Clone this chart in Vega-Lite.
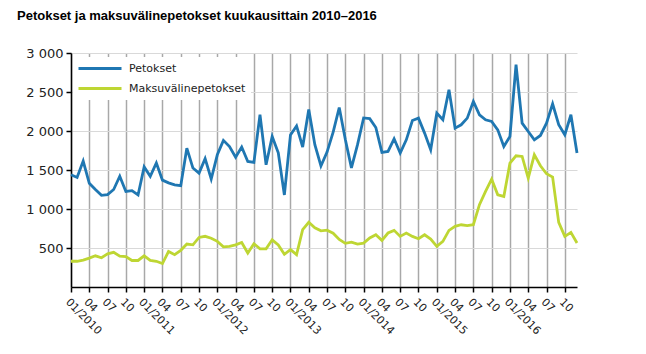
{
  "$schema": "https://vega.github.io/schema/vega-lite/v6.json",
  "width": 506,
  "height": 234,
  "autosize": {"type": "none"},
  "padding": {"left": 71, "top": 53, "right": 69, "bottom": 67},
  "background": "white",
  "title": {
    "text": "Petokset ja maksuvälinepetokset kuukausittain 2010–2016",
    "anchor": "start",
    "frame": "group",
    "dx": -54,
    "offset": 24,
    "font": "Liberation Sans",
    "fontSize": 13,
    "fontWeight": "bold",
    "color": "#000000"
  },
  "data": {
    "values": [
      {"kk": "2010-01", "Petokset": 1440, "Maksuvälinepetokset": 330},
      {"kk": "2010-02", "Petokset": 1405, "Maksuvälinepetokset": 330},
      {"kk": "2010-03", "Petokset": 1615, "Maksuvälinepetokset": 345},
      {"kk": "2010-04", "Petokset": 1330, "Maksuvälinepetokset": 370},
      {"kk": "2010-05", "Petokset": 1250, "Maksuvälinepetokset": 400},
      {"kk": "2010-06", "Petokset": 1175, "Maksuvälinepetokset": 375},
      {"kk": "2010-07", "Petokset": 1185, "Maksuvälinepetokset": 425},
      {"kk": "2010-08", "Petokset": 1250, "Maksuvälinepetokset": 445},
      {"kk": "2010-09", "Petokset": 1420, "Maksuvälinepetokset": 395},
      {"kk": "2010-10", "Petokset": 1225, "Maksuvälinepetokset": 390},
      {"kk": "2010-11", "Petokset": 1235, "Maksuvälinepetokset": 340},
      {"kk": "2010-12", "Petokset": 1180, "Maksuvälinepetokset": 340},
      {"kk": "2011-01", "Petokset": 1540, "Maksuvälinepetokset": 400},
      {"kk": "2011-02", "Petokset": 1420, "Maksuvälinepetokset": 340},
      {"kk": "2011-03", "Petokset": 1590, "Maksuvälinepetokset": 330},
      {"kk": "2011-04", "Petokset": 1370, "Maksuvälinepetokset": 300},
      {"kk": "2011-05", "Petokset": 1335, "Maksuvälinepetokset": 455},
      {"kk": "2011-06", "Petokset": 1310, "Maksuvälinepetokset": 415},
      {"kk": "2011-07", "Petokset": 1300, "Maksuvälinepetokset": 470},
      {"kk": "2011-08", "Petokset": 1780, "Maksuvälinepetokset": 550},
      {"kk": "2011-09", "Petokset": 1525, "Maksuvälinepetokset": 540},
      {"kk": "2011-10", "Petokset": 1460, "Maksuvälinepetokset": 635},
      {"kk": "2011-11", "Petokset": 1645, "Maksuvälinepetokset": 650},
      {"kk": "2011-12", "Petokset": 1385, "Maksuvälinepetokset": 625},
      {"kk": "2012-01", "Petokset": 1695, "Maksuvälinepetokset": 585},
      {"kk": "2012-02", "Petokset": 1880, "Maksuvälinepetokset": 515},
      {"kk": "2012-03", "Petokset": 1800, "Maksuvälinepetokset": 520},
      {"kk": "2012-04", "Petokset": 1665, "Maksuvälinepetokset": 540},
      {"kk": "2012-05", "Petokset": 1795, "Maksuvälinepetokset": 570},
      {"kk": "2012-06", "Petokset": 1610, "Maksuvälinepetokset": 435},
      {"kk": "2012-07", "Petokset": 1597, "Maksuvälinepetokset": 555},
      {"kk": "2012-08", "Petokset": 2208, "Maksuvälinepetokset": 490},
      {"kk": "2012-09", "Petokset": 1567, "Maksuvälinepetokset": 490},
      {"kk": "2012-10", "Petokset": 1930, "Maksuvälinepetokset": 605},
      {"kk": "2012-11", "Petokset": 1720, "Maksuvälinepetokset": 540},
      {"kk": "2012-12", "Petokset": 1180, "Maksuvälinepetokset": 420},
      {"kk": "2013-01", "Petokset": 1950, "Maksuvälinepetokset": 480},
      {"kk": "2013-02", "Petokset": 2065, "Maksuvälinepetokset": 415},
      {"kk": "2013-03", "Petokset": 1795, "Maksuvälinepetokset": 735},
      {"kk": "2013-04", "Petokset": 2275, "Maksuvälinepetokset": 830},
      {"kk": "2013-05", "Petokset": 1825, "Maksuvälinepetokset": 760},
      {"kk": "2013-06", "Petokset": 1552, "Maksuvälinepetokset": 720},
      {"kk": "2013-07", "Petokset": 1730, "Maksuvälinepetokset": 728},
      {"kk": "2013-08", "Petokset": 1985, "Maksuvälinepetokset": 690},
      {"kk": "2013-09", "Petokset": 2300, "Maksuvälinepetokset": 610},
      {"kk": "2013-10", "Petokset": 1890, "Maksuvälinepetokset": 560},
      {"kk": "2013-11", "Petokset": 1527, "Maksuvälinepetokset": 576},
      {"kk": "2013-12", "Petokset": 1825, "Maksuvälinepetokset": 550},
      {"kk": "2014-01", "Petokset": 2167, "Maksuvälinepetokset": 562},
      {"kk": "2014-02", "Petokset": 2158, "Maksuvälinepetokset": 628},
      {"kk": "2014-03", "Petokset": 2045, "Maksuvälinepetokset": 670},
      {"kk": "2014-04", "Petokset": 1725, "Maksuvälinepetokset": 598},
      {"kk": "2014-05", "Petokset": 1738, "Maksuvälinepetokset": 692},
      {"kk": "2014-06", "Petokset": 1900, "Maksuvälinepetokset": 726},
      {"kk": "2014-07", "Petokset": 1717, "Maksuvälinepetokset": 649},
      {"kk": "2014-08", "Petokset": 1887, "Maksuvälinepetokset": 692},
      {"kk": "2014-09", "Petokset": 2135, "Maksuvälinepetokset": 649},
      {"kk": "2014-10", "Petokset": 2165, "Maksuvälinepetokset": 619},
      {"kk": "2014-11", "Petokset": 1973, "Maksuvälinepetokset": 670},
      {"kk": "2014-12", "Petokset": 1759, "Maksuvälinepetokset": 615},
      {"kk": "2015-01", "Petokset": 2229, "Maksuvälinepetokset": 521},
      {"kk": "2015-02", "Petokset": 2144, "Maksuvälinepetokset": 585},
      {"kk": "2015-03", "Petokset": 2528, "Maksuvälinepetokset": 726},
      {"kk": "2015-04", "Petokset": 2037, "Maksuvälinepetokset": 777},
      {"kk": "2015-05", "Petokset": 2080, "Maksuvälinepetokset": 798},
      {"kk": "2015-06", "Petokset": 2165, "Maksuvälinepetokset": 786},
      {"kk": "2015-07", "Petokset": 2378, "Maksuvälinepetokset": 798},
      {"kk": "2015-08", "Petokset": 2208, "Maksuvälinepetokset": 1055},
      {"kk": "2015-09", "Petokset": 2144, "Maksuvälinepetokset": 1225},
      {"kk": "2015-10", "Petokset": 2122, "Maksuvälinepetokset": 1383},
      {"kk": "2015-11", "Petokset": 2015, "Maksuvälinepetokset": 1183},
      {"kk": "2015-12", "Petokset": 1802, "Maksuvälinepetokset": 1161},
      {"kk": "2016-01", "Petokset": 1930, "Maksuvälinepetokset": 1588},
      {"kk": "2016-02", "Petokset": 2850, "Maksuvälinepetokset": 1682},
      {"kk": "2016-03", "Petokset": 2101, "Maksuvälinepetokset": 1674},
      {"kk": "2016-04", "Petokset": 1994, "Maksuvälinepetokset": 1396},
      {"kk": "2016-05", "Petokset": 1887, "Maksuvälinepetokset": 1695},
      {"kk": "2016-06", "Petokset": 1943, "Maksuvälinepetokset": 1554},
      {"kk": "2016-07", "Petokset": 2101, "Maksuvälinepetokset": 1452},
      {"kk": "2016-08", "Petokset": 2349, "Maksuvälinepetokset": 1409},
      {"kk": "2016-09", "Petokset": 2080, "Maksuvälinepetokset": 828},
      {"kk": "2016-10", "Petokset": 1951, "Maksuvälinepetokset": 649},
      {"kk": "2016-11", "Petokset": 2208, "Maksuvälinepetokset": 700},
      {"kk": "2016-12", "Petokset": 1717, "Maksuvälinepetokset": 564}
    ]
  },
  "transform": [{"fold": ["Petokset", "Maksuvälinepetokset"], "as": ["sarja", "arvo"]}],
  "mark": {"type": "line", "strokeWidth": 2.8},
  "encoding": {
    "x": {
      "field": "kk",
      "type": "ordinal",
      "scale": {"type": "point", "padding": 0},
      "axis": {
        "title": null,
        "values": ["2010-01","2010-04","2010-07","2010-10","2011-01","2011-04","2011-07","2011-10","2012-01","2012-04","2012-07","2012-10","2013-01","2013-04","2013-07","2013-10","2014-01","2014-04","2014-07","2014-10","2015-01","2015-04","2015-07","2015-10","2016-01","2016-04","2016-07","2016-10"],
        "labelExpr": "slice(datum.value, 5) == '01' ? '01/' + slice(datum.value, 0, 4) : slice(datum.value, 5)",
        "grid": true,
        "gridColor": "#a8a8a8",
        "gridWidth": 1.5,
        "domainColor": "#000000",
        "domainWidth": 1.5,
        "tickColor": "#000000",
        "tickWidth": 1.5,
        "tickSize": 5,
        "labelAngle": 45,
        "labelAlign": "left",
        "labelBaseline": "top",
        "labelPadding": 4,
        "labelFont": "DejaVu Sans",
        "labelFontSize": 11,
        "labelColor": "#222222",
        "labelOverlap": false
      }
    },
    "y": {
      "field": "arvo",
      "type": "quantitative",
      "scale": {"domain": [0, 3000], "nice": false},
      "axis": {
        "title": null,
        "values": [500, 1000, 1500, 2000, 2500, 3000],
        "labelExpr": "replace(format(datum.value, ','), ',', ' ')",
        "grid": true,
        "gridColor": "#d9d9d9",
        "gridWidth": 1,
        "domainColor": "#000000",
        "domainWidth": 1.5,
        "tickColor": "#000000",
        "tickWidth": 1.5,
        "tickSize": 5,
        "labelPadding": 3,
        "labelFont": "DejaVu Sans",
        "labelFontSize": 13,
        "labelColor": "#222222"
      }
    },
    "color": {
      "field": "sarja",
      "type": "nominal",
      "scale": {"domain": ["Petokset", "Maksuvälinepetokset"], "range": ["#1f77b2", "#bed633"]},
      "legend": {
        "title": null,
        "orient": "none",
        "legendX": 2,
        "legendY": 4,
        "fillColor": "white",
        "padding": 5,
        "symbolType": "M-1.2,0H7.4",
        "symbolStrokeWidth": 3,
        "symbolSize": 100,
        "labelOffset": 38,
        "labelFont": "DejaVu Sans",
        "labelFontSize": 11,
        "labelColor": "#222222",
        "rowPadding": 7
      }
    }
  },
  "config": {"view": {"stroke": null}}
}
